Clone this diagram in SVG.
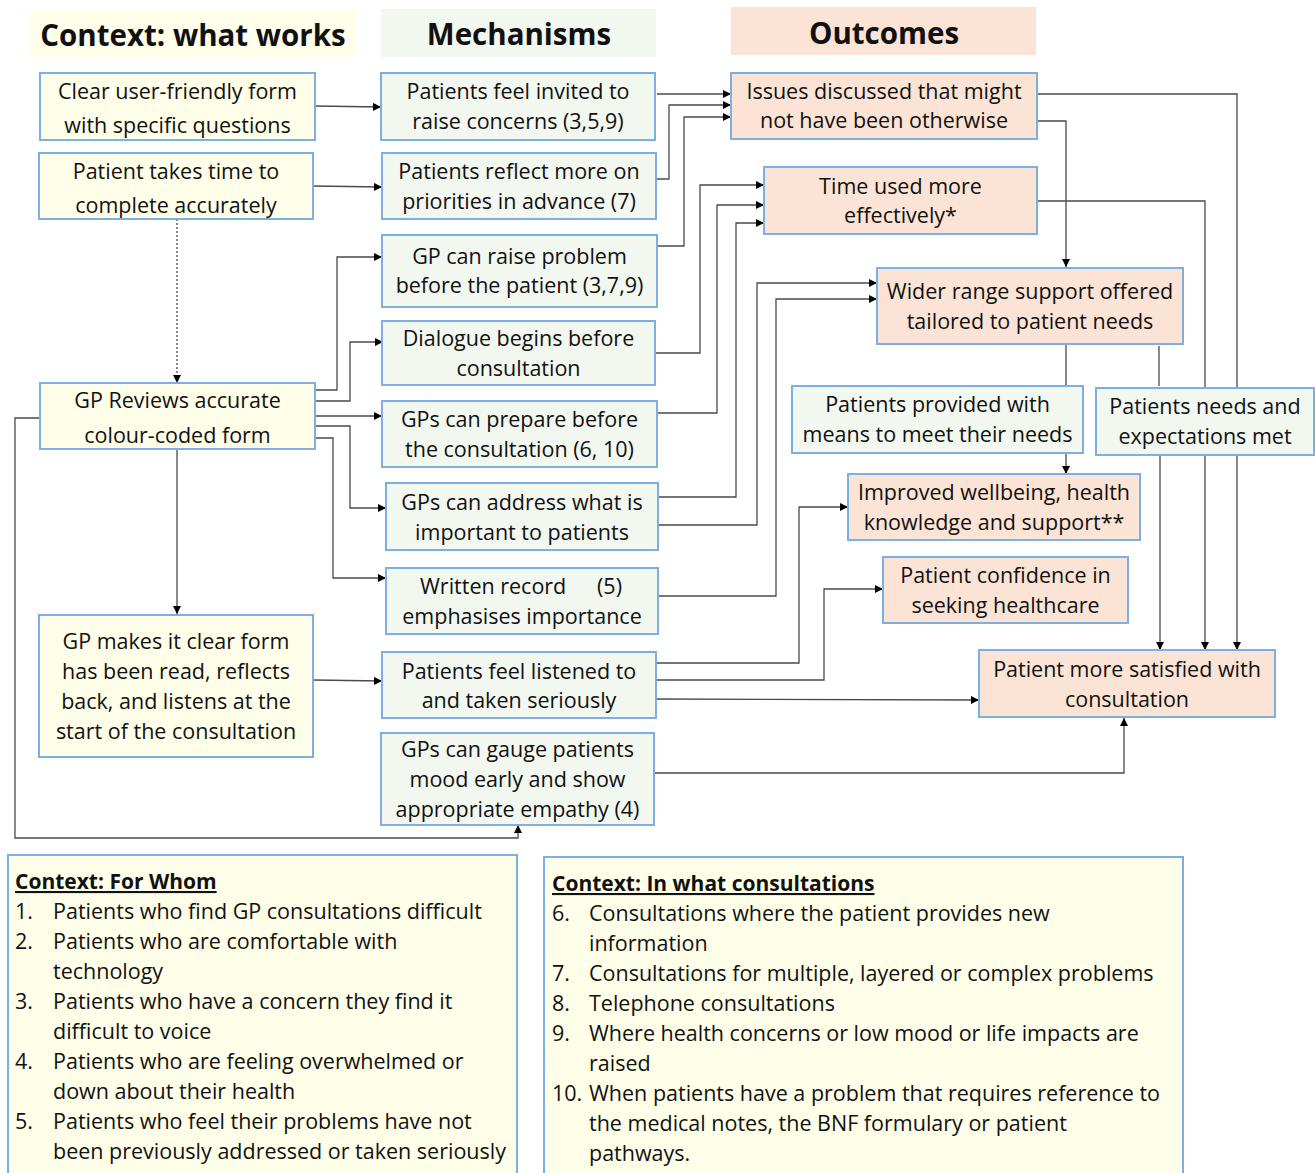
<svg xmlns="http://www.w3.org/2000/svg" width="1315" height="1173" viewBox="0 0 1315 1173">
<style>
.y{fill:#ffffe9;stroke:#7db0e0;stroke-width:2}
.g{fill:#f2f7f0;stroke:#7db0e0;stroke-width:2}
.p{fill:#fbe4d5;stroke:#7db0e0;stroke-width:2}
text{font-family:"Open Sans","Noto Sans","DejaVu Sans",sans-serif;fill:#111}
.t{font-size:21.5px;text-anchor:middle}
.h{font-size:29.5px;font-weight:bold;text-anchor:middle}
.l{font-size:21.5px}
.lh{font-size:21px;font-weight:bold;text-decoration:underline}
.c{fill:none;stroke:#4a4a4a;stroke-width:1.3}
</style>
<defs>
<marker id="a" viewBox="0 0 10 10" refX="10" refY="5" markerWidth="9" markerHeight="8" markerUnits="userSpaceOnUse" orient="auto">
<path d="M0,0 L10,5 L0,10 z" fill="#000"/>
</marker>
</defs>
<rect width="1315" height="1173" fill="#fff"/>

<g id="headers">
<rect x="30" y="10" width="325" height="47" fill="#ffffeb"/>
<text class="h" x="193" y="46">Context: what works</text>
<rect x="381" y="9" width="275" height="48" fill="#f2f7f0"/>
<text class="h" x="519" y="45">Mechanisms</text>
<rect x="731" y="7" width="305" height="48" fill="#fbe4d5"/>
<text class="h" x="884" y="44">Outcomes</text>
</g>

<g id="connectors">
<path class="c" d="M315,106 L381,107" marker-end="url(#a)"/>
<path class="c" d="M313,186 L382,187" marker-end="url(#a)"/>
<path class="c" d="M177,219 L177,383" stroke-dasharray="2,2" marker-end="url(#a)"/>
<path class="c" d="M315,390 H337 V257 H382" marker-end="url(#a)"/>
<path class="c" d="M315,401 H350 V342 H383" marker-end="url(#a)"/>
<path class="c" d="M315,416 H382" marker-end="url(#a)"/>
<path class="c" d="M315,426 H350 V508 H386" marker-end="url(#a)"/>
<path class="c" d="M315,438 H333 V578 H386" marker-end="url(#a)"/>
<path class="c" d="M177,449 V614" marker-end="url(#a)"/>
<path class="c" d="M40,418 H15 V838 H518 V825" marker-end="url(#a)"/>
<path class="c" d="M313,680 L382,681" marker-end="url(#a)"/>
<path class="c" d="M657,94 H731" marker-end="url(#a)"/>
<path class="c" d="M655,179 H669 V105 H731" marker-end="url(#a)"/>
<path class="c" d="M657,246 H684 V117 H731" marker-end="url(#a)"/>
<path class="c" d="M653,353 H700 V185 H764" marker-end="url(#a)"/>
<path class="c" d="M657,413 H717 V205 H764" marker-end="url(#a)"/>
<path class="c" d="M658,497 H736 V223 H764" marker-end="url(#a)"/>
<path class="c" d="M658,525 H757 V283 H877" marker-end="url(#a)"/>
<path class="c" d="M658,596 H776 V299 H877" marker-end="url(#a)"/>
<path class="c" d="M656,663 H799 V507 H848" marker-end="url(#a)"/>
<path class="c" d="M656,680 H824 V589 H883" marker-end="url(#a)"/>
<path class="c" d="M656,699 L979,700" marker-end="url(#a)"/>
<path class="c" d="M654,773 H1124 V718" marker-end="url(#a)"/>
<path class="c" d="M1037,121 H1066 V267" marker-end="url(#a)"/>
<path class="c" d="M1037,94 H1237 V650" marker-end="url(#a)"/>
<path class="c" d="M1037,201 H1205 V650" marker-end="url(#a)"/>
<path class="c" d="M1066,344 V386"/>
<path class="c" d="M1066,453 V474" marker-end="url(#a)"/>
<path class="c" d="M1159,346 V386"/>
<path class="c" d="M1160,455 V650" marker-end="url(#a)"/>
</g>

<g id="c1"><rect class="y" x="40" y="73" width="275" height="67"/>
<text class="t" x="177.5" y="99">Clear user-friendly form</text><text class="t" x="177.5" y="133">with specific questions</text></g>
<g id="c2"><rect class="y" x="39" y="153" width="274" height="66"/>
<text class="t" x="176" y="179">Patient takes time to</text><text class="t" x="176" y="213">complete accurately</text></g>
<g id="c3"><rect class="y" x="40" y="383" width="275" height="66"/>
<text class="t" x="177.5" y="408">GP Reviews accurate</text><text class="t" x="177.5" y="443">colour-coded form</text></g>
<g id="c4"><rect class="y" x="39" y="615" width="274" height="142"/>
<text class="t" x="176" y="649">GP makes it clear form</text><text class="t" x="176" y="679">has been read, reflects</text><text class="t" x="176" y="709">back, and listens at the</text><text class="t" x="176" y="739">start of the consultation</text></g>

<g id="m1"><rect class="g" x="381" y="73" width="274" height="67"/>
<text class="t" x="518" y="99">Patients feel invited to</text><text class="t" x="518" y="129">raise concerns (3,5,9)</text></g>
<g id="m2"><rect class="g" x="382" y="153" width="274" height="66"/>
<text class="t" x="519" y="179">Patients reflect more on</text><text class="t" x="519" y="209">priorities in advance (7)</text></g>
<g id="m3"><rect class="g" x="382" y="235" width="275" height="72"/>
<text class="t" x="519.5" y="264">GP can raise problem</text><text class="t" x="519.5" y="293">before the patient (3,7,9)</text></g>
<g id="m4"><rect class="g" x="382" y="321" width="273" height="64"/>
<text class="t" x="518.5" y="346">Dialogue begins before</text><text class="t" x="518.5" y="376">consultation</text></g>
<g id="m5"><rect class="g" x="382" y="401" width="275" height="66"/>
<text class="t" x="519.5" y="427">GPs can prepare before</text><text class="t" x="519.5" y="457">the consultation (6, 10)</text></g>
<g id="m6"><rect class="g" x="386" y="483" width="272" height="67"/>
<text class="t" x="522" y="510">GPs can address what is</text><text class="t" x="522" y="540">important to patients</text></g>
<g id="m7"><rect class="g" x="386" y="568" width="272" height="66"/>
<text class="l" x="420" y="594">Written record</text><text class="l" x="597" y="594">(5)</text><text class="t" x="522" y="624">emphasises importance</text></g>
<g id="m8"><rect class="g" x="382" y="652" width="274" height="66"/>
<text class="t" x="519" y="679">Patients feel listened to</text><text class="t" x="519" y="708">and taken seriously</text></g>
<g id="m9"><rect class="g" x="381" y="733" width="273" height="92"/>
<text class="t" x="517.5" y="757">GPs can gauge patients</text><text class="t" x="517.5" y="787">mood early and show</text><text class="t" x="517.5" y="817">appropriate empathy (4)</text></g>

<g id="o1"><rect class="p" x="731" y="73" width="306" height="66"/>
<text class="t" x="884" y="99">Issues discussed that might</text><text class="t" x="884" y="128">not have been otherwise</text></g>
<g id="o2"><rect class="p" x="764" y="167" width="273" height="67"/>
<text class="t" x="900.5" y="194">Time used more</text><text class="t" x="900.5" y="223">effectively*</text></g>
<g id="o3"><rect class="p" x="877" y="268" width="306" height="76"/>
<text class="t" x="1030" y="299">Wider range support offered</text><text class="t" x="1030" y="329">tailored to patient needs</text></g>
<g id="m10"><rect class="g" x="792" y="386" width="291" height="67"/>
<text class="t" x="937.5" y="412">Patients provided with</text><text class="t" x="937.5" y="442">means to meet their needs</text></g>
<g id="m11"><rect class="g" x="1096" y="388" width="218" height="67"/>
<text class="t" x="1205" y="414">Patients needs and</text><text class="t" x="1205" y="444">expectations met</text></g>
<g id="o4"><rect class="p" x="848" y="474" width="292" height="66"/>
<text class="t" x="994" y="500">Improved wellbeing, health</text><text class="t" x="994" y="530">knowledge and support**</text></g>
<g id="o5"><rect class="p" x="883" y="557" width="245" height="66"/>
<text class="t" x="1005.5" y="583">Patient confidence in</text><text class="t" x="1005.5" y="613">seeking healthcare</text></g>
<g id="o6"><rect class="p" x="979" y="650" width="296" height="67"/>
<text class="t" x="1127" y="677">Patient more satisfied with</text><text class="t" x="1127" y="707">consultation</text></g>

<g id="b1"><rect class="y" x="8" y="855" width="509" height="330"/>
<text class="lh" x="15" y="889">Context: For Whom</text>
<text class="l" x="15" y="919">1.</text><text class="l" x="53" y="919">Patients who find GP consultations difficult</text>
<text class="l" x="15" y="949">2.</text><text class="l" x="53" y="949">Patients who are comfortable with</text>
<text class="l" x="53" y="979">technology</text>
<text class="l" x="15" y="1009">3.</text><text class="l" x="53" y="1009">Patients who have a concern they find it</text>
<text class="l" x="53" y="1039">difficult to voice</text>
<text class="l" x="15" y="1069">4.</text><text class="l" x="53" y="1069">Patients who are feeling overwhelmed or</text>
<text class="l" x="53" y="1099">down about their health</text>
<text class="l" x="15" y="1129">5.</text><text class="l" x="53" y="1129">Patients who feel their problems have not</text>
<text class="l" x="53" y="1159">been previously addressed or taken seriously</text>
</g>
<g id="b2"><rect class="y" x="544" y="857" width="639" height="330"/>
<text class="lh" x="552" y="891">Context: In what consultations</text>
<text class="l" x="552" y="921">6.</text><text class="l" x="589" y="921">Consultations where the patient provides new</text>
<text class="l" x="589" y="951">information</text>
<text class="l" x="552" y="981">7.</text><text class="l" x="589" y="981">Consultations for multiple, layered or complex problems</text>
<text class="l" x="552" y="1011">8.</text><text class="l" x="589" y="1011">Telephone consultations</text>
<text class="l" x="552" y="1041">9.</text><text class="l" x="589" y="1041">Where health concerns or low mood or life impacts are</text>
<text class="l" x="589" y="1071">raised</text>
<text class="l" x="552" y="1101">10.</text><text class="l" x="589" y="1101">When patients have a problem that requires reference to</text>
<text class="l" x="589" y="1131">the medical notes, the BNF formulary or patient</text>
<text class="l" x="589" y="1161">pathways.</text>
</g>
</svg>
